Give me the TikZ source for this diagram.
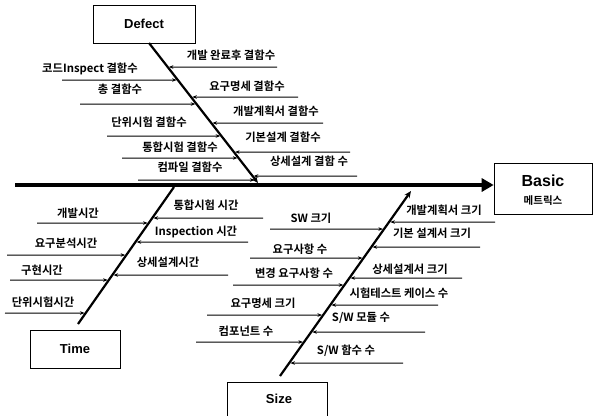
\documentclass[tikz,border=0pt]{standalone}
\usepackage{fontspec}
\setmainfont{Liberation Sans}
\newfontfamily\kr{Noto Sans CJK KR Bold}
\usetikzlibrary{arrows.meta}
\tikzset{
  lbl/.style={font=\kr\fontsize{11.3}{12}\selectfont, inner sep=0pt},
  feed/.style={-{Stealth[length=4.5pt,width=3.5pt]}, line width=1pt, shorten >=1.2pt},
  bonearrow/.style={line width=2.2pt},
  catbox/.style={draw, line width=0.6pt, inner sep=0pt, font=\bfseries\fontsize{13}{15}\selectfont}
}
\begin{document}
\begin{tikzpicture}[x=1pt,y=-1pt]
\clip (0,0) rectangle (593,415);
\fill[white] (0,0) rectangle (593,415);

% boxes
\node[catbox, minimum width=102pt, minimum height=38pt] (defect) at (144,24) {Defect};
\node[catbox, minimum width=90pt, minimum height=38pt] (time) at (75,349) {Time};
\node[catbox, minimum width=100pt, minimum height=40pt] (size) at (277,402) {};
\node[font=\bfseries\fontsize{13}{15}\selectfont, inner sep=0pt] (sizet) at (279,399) {Size};
\node[catbox, minimum width=98pt, minimum height=51pt] (basic) at (543,188.5) {};
\node[font=\bfseries\fontsize{16}{18}\selectfont, inner sep=0pt] (basict) at (543,181) {Basic};
\node[lbl, font=\kr\fontsize{10.5}{12}\selectfont] (basick) at (543,201) {메트릭스};

% spine
\coordinate (s0) at (15,185);
\draw[line width=4pt, -{Triangle[length=12pt,width=13pt]}] (s0) -- (s0 -| basic.west);

% bones
\coordinate (Dt) at (149,43);
\coordinate (Db) at (258,183);
\coordinate (Tt) at (174,187);
\coordinate (Tb) at (78,324);
\coordinate (Sb) at (280,376);
\coordinate (St) at (411,191);
\draw[bonearrow, -{Stealth[length=7pt,width=6pt]}] (Dt) -- (Db);
\draw[bonearrow] (Tb) -- (Tt);
\draw[bonearrow, -{Stealth[length=7pt,width=6pt]}] (Sb) -- (St);

% Defect, right side
\node[lbl] (dr1t) at (231,55) {개발 완료후 결함수};
\node[lbl] (dr2t) at (247,86) {요구명세 결함수};
\node[lbl] (dr3t) at (276,111) {개발계획서 결함수};
\node[lbl] (dr4t) at (283,137) {기본설계 결함수};
\node[lbl] (dr5t) at (309,161) {상세설계 결함 수};
\coordinate (dr1) at (277,67);
\coordinate (dr2) at (298,97);
\coordinate (dr3) at (323,123);
\coordinate (dr4) at (350,152);
\coordinate (dr5) at (357,176);
\draw[feed] (dr1) -- (intersection of Dt--Db and dr1--0,67);
\draw[feed] (dr2) -- (intersection of Dt--Db and dr2--0,97);
\draw[feed] (dr3) -- (intersection of Dt--Db and dr3--0,123);
\draw[feed] (dr4) -- (intersection of Dt--Db and dr4--0,152);
\draw[feed] (dr5) -- (intersection of Dt--Db and dr5--0,176);

% Defect, left side
\node[lbl] (dl1t) at (90,69) {코드Inspect 결함수};
\node[lbl] (dl2t) at (120,89) {총 결함수};
\node[lbl] (dl3t) at (149,122) {단위시험 결함수};
\node[lbl] (dl4t) at (180,147) {통합시험 결함수};
\node[lbl] (dl5t) at (190,167) {컴파일 결함수};
\coordinate (dl1) at (62,80);
\coordinate (dl2) at (80,104);
\coordinate (dl3) at (107,136);
\coordinate (dl4) at (122,158);
\coordinate (dl5) at (138,180);
\draw[feed] (dl1) -- (intersection of Dt--Db and dl1--600,80);
\draw[feed] (dl2) -- (intersection of Dt--Db and dl2--600,104);
\draw[feed] (dl3) -- (intersection of Dt--Db and dl3--600,136);
\draw[feed] (dl4) -- (intersection of Dt--Db and dl4--600,158);
\draw[feed] (dl5) -- (intersection of Dt--Db and dl5--600,180);

% Time, right side
\node[lbl] (tr1t) at (206,205) {통합시험 시간};
\node[lbl] (tr2t) at (196,232) {Inspection 시간};
\node[lbl] (tr3t) at (168,262) {상세설계시간};
\coordinate (tr1) at (263,218);
\coordinate (tr2) at (248,242);
\coordinate (tr3) at (228,275);
\draw[feed] (tr1) -- (intersection of Tt--Tb and tr1--0,218);
\draw[feed] (tr2) -- (intersection of Tt--Tb and tr2--0,242);
\draw[feed] (tr3) -- (intersection of Tt--Tb and tr3--0,275);

% Time, left side
\node[lbl] (tl1t) at (78,213) {개발시간};
\node[lbl] (tl2t) at (66,243) {요구분석시간};
\node[lbl] (tl3t) at (42,270) {구현시간};
\node[lbl] (tl4t) at (43,302) {단위시험시간};
\coordinate (tl1) at (37,223);
\coordinate (tl2) at (7,255);
\coordinate (tl3) at (10,280);
\coordinate (tl4) at (5,313);
\draw[feed] (tl1) -- (intersection of Tt--Tb and tl1--600,223);
\draw[feed] (tl2) -- (intersection of Tt--Tb and tl2--600,255);
\draw[feed] (tl3) -- (intersection of Tt--Tb and tl3--600,280);
\draw[feed] (tl4) -- (intersection of Tt--Tb and tl4--600,313);

% Size, left side
\node[lbl] (sl1t) at (311,218) {SW 크기};
\node[lbl] (sl2t) at (300,249) {요구사항 수};
\node[lbl] (sl3t) at (294,273) {변경 요구사항 수};
\node[lbl] (sl4t) at (263,303) {요구명세 크기};
\node[lbl] (sl5t) at (246,331) {컴포넌트 수};
\coordinate (sl1) at (270,229);
\coordinate (sl2) at (250,258);
\coordinate (sl3) at (233,285);
\coordinate (sl4) at (207,315);
\coordinate (sl5) at (196,342);
\draw[feed] (sl1) -- (intersection of Sb--St and sl1--600,229);
\draw[feed] (sl2) -- (intersection of Sb--St and sl2--600,258);
\draw[feed] (sl3) -- (intersection of Sb--St and sl3--600,285);
\draw[feed] (sl4) -- (intersection of Sb--St and sl4--600,315);
\draw[feed] (sl5) -- (intersection of Sb--St and sl5--600,342);

% Size, right side
\node[lbl] (sr1t) at (444,210) {개발계획서 크기};
\node[lbl] (sr2t) at (432,233) {기본 설계서 크기};
\node[lbl] (sr3t) at (410,269) {상세설계서 크기};
\node[lbl] (sr4t) at (399,293) {시험테스트 케이스 수};
\node[lbl] (sr5t) at (361,318) {S/W 모듈 수};
\node[lbl] (sr6t) at (346,351) {S/W 함수 수};
\coordinate (sr1) at (495,222);
\coordinate (sr2) at (480,247);
\coordinate (sr3) at (462,278);
\coordinate (sr4) at (438,305);
\coordinate (sr5) at (425,332);
\coordinate (sr6) at (403,363);
\draw[feed] (sr1) -- (intersection of Sb--St and sr1--0,222);
\draw[feed] (sr2) -- (intersection of Sb--St and sr2--0,247);
\draw[feed] (sr3) -- (intersection of Sb--St and sr3--0,278);
\draw[feed] (sr4) -- (intersection of Sb--St and sr4--0,305);
\draw[feed] (sr5) -- (intersection of Sb--St and sr5--0,332);
\draw[feed] (sr6) -- (intersection of Sb--St and sr6--0,363);
\end{tikzpicture}
\end{document}
